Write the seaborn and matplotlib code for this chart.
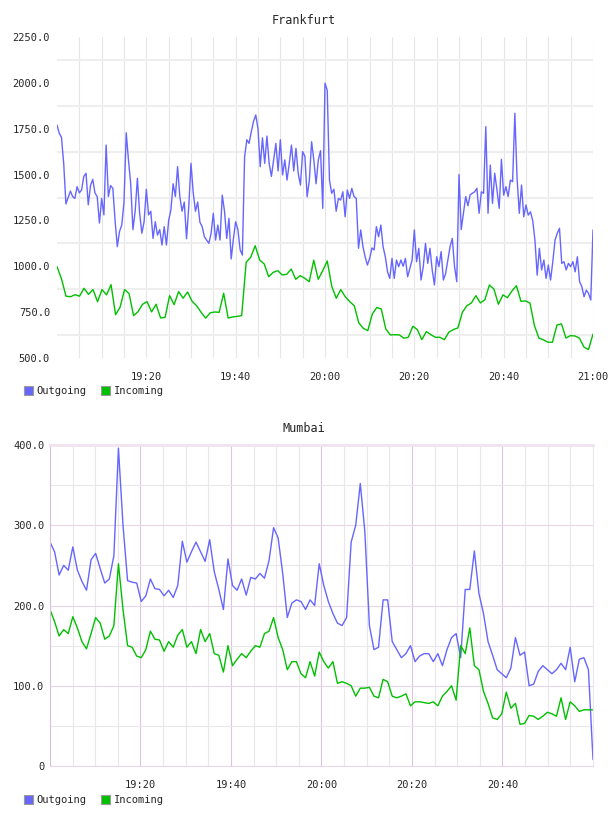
import pandas as pd
import matplotlib
matplotlib.use('Agg')
import matplotlib.pyplot as plt
import matplotlib.dates as mdates
from matplotlib.patches import Patch
from matplotlib.ticker import MultipleLocator, FixedLocator, FuncFormatter
import seaborn as sns

# Frankfurt: outgoing sampled every 30 s, incoming once a minute
fra_out = [1770, 1725, 1703, 1560, 1340, 1375, 1410, 1380, 1370, 1434,
           1400, 1416, 1490, 1507, 1335, 1440, 1474, 1400, 1380, 1236,
           1370, 1280, 1661, 1380, 1440, 1425, 1250, 1107, 1190, 1225,
           1350, 1728, 1579, 1450, 1200, 1300, 1480, 1289, 1180, 1243,
           1420, 1280, 1300, 1152, 1243, 1170, 1200, 1116, 1216, 1116,
           1250, 1307, 1450, 1380, 1543, 1380, 1300, 1350, 1150, 1325,
           1561, 1400, 1300, 1350, 1240, 1216, 1161, 1143, 1125, 1180,
           1289, 1143, 1225, 1143, 1388, 1300, 1152, 1261, 1040, 1150,
           1243, 1200, 1090, 1061, 1597, 1690, 1670, 1734, 1790, 1825,
           1750, 1543, 1700, 1561, 1710, 1560, 1490, 1579, 1670, 1520,
           1690, 1498, 1580, 1470, 1561, 1661, 1520, 1643, 1507, 1443,
           1625, 1600, 1379, 1470, 1679, 1579, 1450, 1579, 1630, 1316,
           1998, 1960, 1470, 1398, 1420, 1300, 1370, 1361, 1406, 1270,
           1416, 1370, 1425, 1380, 1370, 1098, 1198, 1107, 1050, 1007,
           1043, 1100, 1089, 1216, 1161, 1225, 1107, 1052, 970, 934,
           1043, 934, 1034, 998, 1034, 1000, 1043, 943, 989, 1034,
           1198, 1025, 1098, 925, 998, 1125, 1016, 1098, 980, 898,
           1052, 998, 1080, 925, 960, 1034, 1107, 1152, 998, 916,
           1500, 1200, 1290, 1380, 1330, 1390, 1398, 1406, 1425, 1289,
           1406, 1398, 1761, 1289, 1552, 1343, 1507, 1416, 1316, 1583,
           1388, 1434, 1380, 1470, 1461, 1834, 1480, 1289, 1443, 1270,
           1334, 1279, 1297, 1250, 1143, 952, 1098, 980, 1034, 934,
           1007, 925, 1025, 1143, 1180, 1207, 1016, 1025, 980, 1016,
           998, 1025, 970, 1052, 916, 889, 834, 870, 852, 816,
           1198]
fra_in = [998, 931, 837, 834, 845, 837, 880, 847, 873, 807,
          873, 844, 900, 736, 777, 873, 851, 731, 753, 793,
          807, 751, 793, 718, 722, 840, 791, 862, 826, 860,
          809, 785, 749, 717, 746, 751, 749, 853, 718, 724,
          727, 731, 1022, 1049, 1112, 1034, 1013, 943, 967, 976,
          953, 956, 985, 929, 949, 935, 916, 1033, 929, 976,
          1029, 891, 826, 873, 834, 807, 785, 691, 662, 649,
          740, 775, 767, 658, 626, 627, 626, 608, 613, 673,
          655, 600, 644, 627, 613, 613, 600, 641, 655, 664,
          749, 785, 800, 840, 800, 818, 898, 876, 793, 844,
          829, 865, 894, 809, 811, 800, 676, 608, 599, 586,
          586, 680, 686, 609, 622, 620, 608, 559, 546, 630]

# Mumbai: both once a minute
bom_out = [279, 267, 238, 250, 244, 273, 244, 230, 219, 257,
           265, 246, 228, 233, 262, 396, 300, 231, 229, 228,
           205, 212, 233, 221, 220, 212, 219, 210, 225, 280,
           254, 267, 279, 267, 255, 282, 242, 220, 195, 258,
           225, 219, 233, 213, 235, 233, 240, 234, 256, 297,
           284, 240, 185, 203, 207, 205, 195, 207, 200, 252,
           225, 205, 190, 178, 175, 185, 279, 300, 352, 292,
           175, 145, 148, 207, 207, 155, 145, 135, 140, 150,
           130, 137, 140, 140, 130, 140, 125, 145, 160, 165,
           135, 220, 220, 268, 215, 190, 155, 138, 120, 115,
           110, 122, 160, 138, 142, 100, 102, 118, 125, 120,
           115, 120, 128, 120, 148, 105, 133, 135, 120, 8]
bom_in = [195, 180, 162, 170, 165, 186, 172, 155, 146, 165,
          185, 178, 158, 162, 175, 252, 195, 150, 148, 137,
          135, 145, 168, 158, 157, 143, 155, 148, 163, 170,
          148, 155, 140, 170, 155, 165, 140, 138, 117, 150,
          125, 133, 140, 135, 143, 150, 148, 165, 168, 185,
          160, 145, 120, 130, 130, 115, 110, 130, 112, 142,
          130, 122, 130, 103, 105, 103, 100, 87, 97, 97,
          98, 87, 85, 108, 105, 87, 85, 87, 90, 75,
          80, 80, 79, 78, 80, 75, 87, 93, 100, 82,
          150, 140, 172, 125, 120, 93, 78, 60, 58, 65,
          92, 72, 78, 52, 53, 63, 62, 58, 62, 67,
          65, 62, 85, 58, 80, 75, 68, 70, 70, 70]

series_names = ['Outgoing', 'Incoming']
colours = {'Outgoing': '#6666ff', 'Incoming': '#00c000'}
start, end = '2020-01-01 19:00', '2020-01-01 21:00'
fra_xticks = ['19:20', '19:40', '20:00', '20:20', '20:40', '21:00']
bom_xticks = ['19:20', '19:40', '20:00', '20:20', '20:40']


def make_frame(out_vals, in_vals):
    """long dataframe with both series spread evenly over the two hours"""
    frames = []
    for name, vals in zip(series_names, [out_vals, in_vals]):
        t = pd.date_range(start, end, periods=len(vals))
        frames.append(pd.DataFrame({'time': t, 'value': vals, 'series': name}))
    return pd.concat(frames, ignore_index=True)


def tick_nums(labels):
    return [mdates.date2num(pd.Timestamp('2020-01-01 ' + s)) for s in labels]


def yfmt(v, pos):
    return '0' if v == 0 else '%.1f' % v


sns.set_style('white')
plt.rcParams['font.family'] = ['DejaVu Sans Mono']
mono = {'family': 'DejaVu Sans Mono', 'size': 7.5}

fig = plt.figure(figsize=(6.08, 8.16), dpi=100)
ax1 = fig.add_axes([57/608, 1-358/816, 536/608, 321/816])
ax2 = fig.add_axes([50/608, 1-766/816, 543/608, 321/816])

minor_x = [mdates.date2num(t) for t in pd.date_range('2020-01-01 19:05', end, freq='5min')]

for ax, out_vals, in_vals, xt in [(ax1, fra_out, fra_in, fra_xticks),
                                  (ax2, bom_out, bom_in, bom_xticks)]:
    df = make_frame(out_vals, in_vals)
    sns.lineplot(data=df, x='time', y='value', hue='series', hue_order=series_names,
                 palette=colours, estimator=None, legend=False, linewidth=1.0, ax=ax)
    ax.set_xlim(pd.Timestamp(start), pd.Timestamp(end))
    ax.xaxis.set_major_locator(FixedLocator(tick_nums(xt)))
    ax.xaxis.set_minor_locator(FixedLocator(minor_x))
    ax.xaxis.set_major_formatter(mdates.DateFormatter('%H:%M'))
    ax.yaxis.set_major_formatter(FuncFormatter(yfmt))
    ax.set_xlabel('')
    ax.set_ylabel('')
    ax.set_axisbelow(True)
    ax.tick_params(which='both', length=0, labelsize=7.5)
    ax.tick_params(axis='x', pad=10)
    for lbl in ax.get_xticklabels() + ax.get_yticklabels():
        lbl.set_family('DejaVu Sans Mono')

# Frankfurt axes: grey grid, no frame
ax1.set_ylim(500, 2250)
ax1.yaxis.set_major_locator(MultipleLocator(250))
ax1.yaxis.set_minor_locator(MultipleLocator(125))
ax1.grid(axis='x', which='both', color='#e6e6e6', linewidth=0.8)
ax1.grid(axis='y', which='minor', color='#eeeeee', linewidth=1.5)
ax1.grid(axis='y', which='major', visible=False)
ax1.tick_params(axis='y', pad=5)
for s in ax1.spines.values():
    s.set_visible(False)

# Mumbai axes: lilac grid and frame
ax2.set_ylim(0, 400)
ax2.yaxis.set_major_locator(MultipleLocator(100))
ax2.yaxis.set_minor_locator(MultipleLocator(50))
ax2.grid(axis='x', which='major', color='#dcc4dc', linewidth=0.8)
ax2.grid(axis='x', which='minor', color='#ebe6eb', linewidth=0.8)
ax2.grid(axis='y', which='major', color='#e6d6e6', linewidth=0.8)
ax2.grid(axis='y', which='minor', color='#e8e8e8', linewidth=0.8)
ax2.tick_params(axis='y', pad=4)
ax2.spines['left'].set_color('#d8c0d8')
ax2.spines['bottom'].set_color('#e8d8e8')
ax2.spines['top'].set_color('#efe4ef')
ax2.spines['top'].set_linewidth(2)
ax2.spines['right'].set_color('#efe4ef')
for s in ax2.spines.values():
    s.set_visible(True)

fig.text(0.5, 1-20/816, 'Frankfurt', ha='center', va='center', fontdict={'family': 'DejaVu Sans Mono', 'size': 8.5})
fig.text(0.5, 1-428/816, 'Mumbai', ha='center', va='center', fontdict={'family': 'DejaVu Sans Mono', 'size': 8.5})

handles = [Patch(facecolor=colours[n], edgecolor='#999999', linewidth=0.8, label=n) for n in series_names]
for ypix in [391, 800]:
    fig.legend(handles=handles, loc='center left', bbox_to_anchor=(24/608, 1-ypix/816),
               ncol=2, frameon=False, prop=mono, handlelength=0.85, handleheight=0.85,
               handletextpad=0.35, columnspacing=1.4, borderpad=0, borderaxespad=0)

fig.savefig('out.png', dpi=100)
